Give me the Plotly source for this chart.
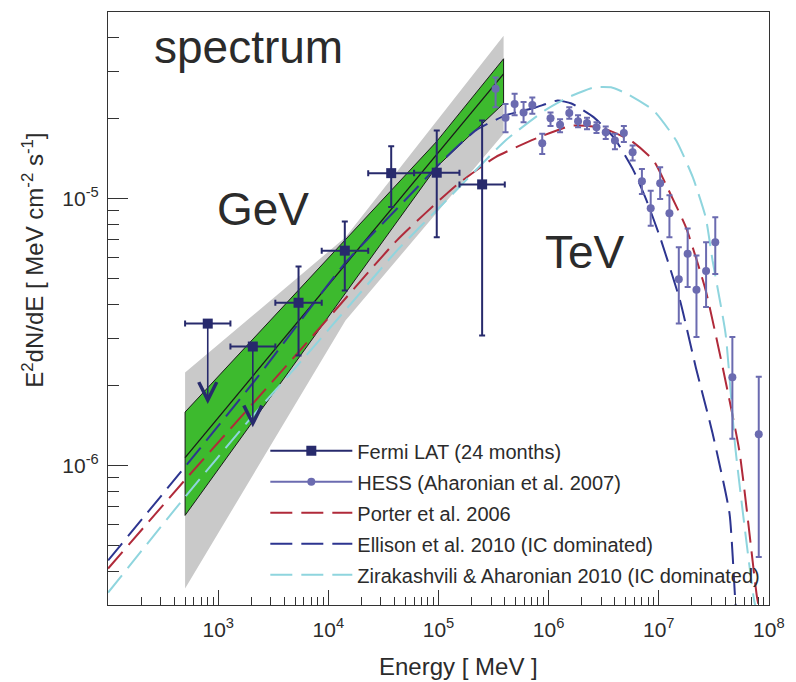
import numpy as np
import plotly.graph_objects as go

# ---------------- data ----------------
# Fermi LAT (24 months): energy bins [MeV] and E^2 dN/dE [MeV cm^-2 s^-1]
fermi_E = [803, 2060, 5360, 14100, 37200, 96400, 2.49e5]
fermi_E_lo = [500, 1290, 3300, 8700, 23000, 60000, 1.55e5]
fermi_E_hi = [1290, 3300, 8700, 23000, 60000, 1.55e5, 4.0e5]
fermi_F = [3.40e-6, 2.79e-6, 4.07e-6, 6.38e-6, 1.245e-5, 1.25e-5, 1.13e-5]
fermi_F_hi = [3.40e-6, 2.79e-6, 5.56e-6, 8.2e-6, 1.57e-5, 1.80e-5, 1.96e-5]
fermi_F_lo = [1.70e-6, 1.39e-6, 2.58e-6, 4.52e-6, 9.3e-6, 7.16e-6, 3.07e-6]
fermi_UL = [True, True, False, False, False, False, False]

# HESS (Aharonian et al. 2007)
hess_E = [3.30e5, 4.06e5, 4.91e5, 5.92e5, 7.11e5, 8.75e5, 1.04e6, 1.27e6, 1.54e6,
          1.85e6, 2.23e6, 2.72e6, 3.30e6, 4.00e6, 4.82e6, 5.79e6, 7.03e6, 8.45e6,
          1.03e7, 1.25e7, 1.52e7, 1.83e7, 2.20e7, 2.69e7, 3.26e7, 4.66e7, 8.09e7]
hess_F = [2.58e-5, 2.01e-5, 2.26e-5, 2.10e-5, 2.24e-5, 1.61e-5, 2.00e-5, 1.89e-5, 2.09e-5,
          1.95e-5, 1.92e-5, 1.85e-5, 1.77e-5, 1.65e-5, 1.76e-5, 1.49e-5, 1.16e-5, 9.2e-6,
          1.14e-5, 8.8e-6, 4.98e-6, 6.21e-6, 4.55e-6, 5.35e-6, 6.86e-6, 2.14e-6, 1.31e-6]
hess_F_hi = [2.84e-5, 2.26e-5, 2.47e-5, 2.30e-5, 2.39e-5, 1.75e-5, 2.10e-5, 1.98e-5, 2.20e-5,
             2.05e-5, 2.01e-5, 1.93e-5, 1.86e-5, 1.75e-5, 1.87e-5, 1.58e-5, 1.29e-5, 1.07e-5,
             1.31e-5, 1.03e-5, 6.57e-6, 7.72e-6, 6.12e-6, 6.86e-6, 8.51e-6, 3.03e-6, 2.15e-6]
hess_F_lo = [2.20e-5, 1.77e-5, 2.05e-5, 1.93e-5, 2.08e-5, 1.47e-5, 1.87e-5, 1.77e-5, 1.99e-5,
             1.85e-5, 1.82e-5, 1.76e-5, 1.67e-5, 1.53e-5, 1.63e-5, 1.39e-5, 1.04e-5, 7.9e-6,
             9.97e-6, 7.16e-6, 3.40e-6, 4.66e-6, 3.03e-6, 3.92e-6, 5.22e-6, 1.26e-6, 4.54e-7]

# Fermi fit: statistical (green) and systematic (gray) bow-ties, best-fit line
green_E = [500, 9.55e4, 3.9e5]
green_hi = [1.585e-6, 1.63e-5, 3.34e-5]
green_lo = [6.5e-7, 1.31e-5, 2.27e-5]
gray_E = [500, 1.43e4, 3.9e5]
gray_hi = [2.23e-6, 7.16e-6, 4.07e-5]
gray_lo = [3.46e-7, 3.49e-6, 1.75e-5]
fit_E = [500, 3.9e5]
fit_F = [1.07e-6, 2.93e-5]

# Models
porter_E = [100, 495, 5320, 10500, 41900, 1.445e5, 3.30e5, 8.0e5, 1.61e6, 3.0e6, 5.57e6,
            8.95e6, 1.27e7, 1.77e7, 2.67e7, 5.38e7, 7.8e7, 8.65e7]
porter_F = [4.11e-7, 8.79e-7, 2.65e-6, 3.65e-6, 6.97e-6, 1.12e-5, 1.43e-5, 1.69e-5, 1.875e-5,
            1.845e-5, 1.65e-5, 1.39e-5, 1.045e-5, 7.78e-6, 4.52e-6, 1.14e-6, 3.21e-7, 2.6e-7]
ellison_E = [100, 495, 2330, 14300, 49400, 1.175e5, 2.18e5, 4.06e5, 7.52e5, 1.21e6, 1.61e6,
             2.59e6, 3.92e6, 5.92e6, 7.74e6, 1.03e7, 1.56e7, 2.17e7, 3.08e7, 4.39e7, 4.95e7, 5.16e7]
ellison_F = [4.41e-7, 9.84e-7, 2.17e-6, 5.75e-6, 9.83e-6, 1.43e-5, 1.80e-5, 2.05e-5, 2.19e-5,
             2.33e-5, 2.27e-5, 2.01e-5, 1.69e-5, 1.27e-5, 9.84e-6, 7.14e-6, 4.15e-6, 2.33e-6,
             1.32e-6, 6.61e-7, 3.12e-7, 2.6e-7]
zira_E = [100, 495, 1900, 6270, 18300, 41900, 1.175e5, 4.06e5, 9.25e5, 1.486e6, 2.59e6,
          3.68e6, 5.13e6, 8.95e6, 1.44e7, 2.04e7, 2.67e7, 3.08e7, 4.04e7, 4.95e7, 7.35e7, 8.2e7]
zira_F = [3.34e-7, 7.59e-7, 1.476e-6, 2.58e-6, 4.30e-6, 6.38e-6, 9.83e-6, 1.65e-5, 2.14e-5,
          2.39e-5, 2.61e-5, 2.61e-5, 2.47e-5, 2.14e-5, 1.65e-5, 1.20e-5, 8.49e-6, 5.86e-6,
          3.12e-6, 1.17e-6, 3.12e-7, 2.6e-7]

x_tickvals = [1e3, 1e4, 1e5, 1e6, 1e7, 1e8]
x_ticktext = ["10<sup>3</sup>", "10<sup>4</sup>", "10<sup>5</sup>", "10<sup>6</sup>",
              "10<sup>7</sup>", "10<sup>8</sup>"]
y_tickvals = [1e-6, 1e-5]
y_ticktext = ["10<sup>-6</sup>", "10<sup>-5</sup>"]

# ---------------- style ----------------
FONT = "Liberation Sans, Arial, Helvetica, sans-serif"
C_FERMI = "#272a6c"
C_HESS = "#6b6bb0"
C_PORTER = "#b02a3a"
C_ELLISON = "#2d3590"
C_ZIRA = "#8fd5de"
DASH = "22px,9px"

fig = go.Figure()

# gray systematic band
fig.add_trace(go.Scatter(
    x=gray_E + gray_E[::-1], y=gray_hi + gray_lo[::-1], fill="toself",
    fillcolor="#c9c9c9", line=dict(width=0), mode="lines",
    showlegend=False, hoverinfo="skip"))
# green statistical band
fig.add_trace(go.Scatter(
    x=green_E + green_E[::-1] + green_E[:1], y=green_hi + green_lo[::-1] + green_hi[:1],
    fill="toself", fillcolor="#3dba2e", line=dict(width=1, color="#1a1a1a"), mode="lines",
    showlegend=False, hoverinfo="skip"))
fig.add_trace(go.Scatter(x=fit_E, y=fit_F, mode="lines",
                         line=dict(width=1.3, color="#1a1a1a"),
                         showlegend=False, hoverinfo="skip"))

# model curves
for E, F, col in [(porter_E, porter_F, C_PORTER), (ellison_E, ellison_F, C_ELLISON),
                  (zira_E, zira_F, C_ZIRA)]:
    fig.add_trace(go.Scatter(x=E, y=F, mode="lines",
                             line=dict(width=2, color=col, dash=DASH, shape="spline",
                                       smoothing=0.5),
                             showlegend=False))

# Fermi points
fE = np.array(fermi_E, dtype=float)
fF = np.array(fermi_F, dtype=float)
ul = np.array(fermi_UL)
err_plus = np.where(ul, 0.0, np.array(fermi_F_hi) - fF)
err_minus = np.where(ul, 0.0, fF - np.array(fermi_F_lo))
fig.add_trace(go.Scatter(
    x=fE, y=fF, mode="markers",
    marker=dict(symbol="square", size=10, color=C_FERMI),
    error_x=dict(type="data", symmetric=False, array=np.array(fermi_E_hi) - fE,
                 arrayminus=fE - np.array(fermi_E_lo), color=C_FERMI, thickness=2, width=3),
    error_y=dict(type="data", symmetric=False, array=err_plus, arrayminus=err_minus,
                 color=C_FERMI, thickness=2, width=3),
    showlegend=False))

# HESS points
hE = np.array(hess_E)
hF = np.array(hess_F)
fig.add_trace(go.Scatter(
    x=hE, y=hF, mode="markers",
    marker=dict(symbol="circle", size=8, color=C_HESS),
    error_y=dict(type="data", symmetric=False, array=np.array(hess_F_hi) - hF,
                 arrayminus=hF - np.array(hess_F_lo), color=C_HESS, thickness=2, width=3),
    showlegend=False))

# legend-only entries
leg = [
    ("Fermi LAT (24 months)", dict(color=C_FERMI, width=2), dict(symbol="square", size=10, color=C_FERMI), "lines+markers"),
    ("HESS (Aharonian et al. 2007)", dict(color=C_HESS, width=2), dict(symbol="circle", size=8, color=C_HESS), "lines+markers"),
    ("Porter et al. 2006", dict(color=C_PORTER, width=2, dash=DASH), None, "lines"),
    ("Ellison et al. 2010 (IC dominated)", dict(color=C_ELLISON, width=2, dash=DASH), None, "lines"),
    ("Zirakashvili & Aharonian 2010 (IC dominated)", dict(color=C_ZIRA, width=2, dash=DASH), None, "lines"),
]
for i, (name, ln, mk, mode) in enumerate(leg):
    kw = dict(x=[None], y=[None], mode=mode, name=name, line=ln, legendgroup=f"g{i}",
              legendrank=i + 1)
    if mk:
        kw["marker"] = mk
    fig.add_trace(go.Scatter(**kw))

annotations = []
# upper-limit arrows for Fermi points
for E, F, lo, isul in zip(fermi_E, fermi_F, fermi_F_lo, fermi_UL):
    if isul:
        annotations.append(dict(
            x=np.log10(E), y=np.log10(lo), ax=np.log10(E), ay=np.log10(F),
            xref="x", yref="y", axref="x", ayref="y", text="", showarrow=True,
            arrowhead=5, arrowsize=2.2, arrowwidth=1.6, arrowcolor=C_FERMI))

txt_col = "#2b2b2b"
annotations += [
    dict(text="spectrum", x=0.212, y=0.941, xref="paper", yref="paper", showarrow=False,
         xanchor="center", yanchor="middle",
         font=dict(size=46, family=FONT, color=txt_col)),
    dict(text="GeV", x=0.234, y=0.668, xref="paper", yref="paper", showarrow=False,
         xanchor="center", yanchor="middle",
         font=dict(size=46, family=FONT, color=txt_col)),
    dict(text="TeV", x=0.722, y=0.596, xref="paper", yref="paper", showarrow=False,
         xanchor="center", yanchor="middle",
         font=dict(size=46, family=FONT, color=txt_col)),
    dict(text="E<sup>2</sup>dN/dE [ MeV cm<sup>-2</sup> s<sup>-1</sup>]", textangle=-90,
         x=-0.113, y=0.581, xref="paper", yref="paper", showarrow=False,
         xanchor="center", yanchor="middle",
         font=dict(size=24, family=FONT, color=txt_col)),
    dict(text="Energy [ MeV ]", x=0.531, y=-0.104, xref="paper", yref="paper",
         showarrow=False, xanchor="center", yanchor="middle",
         font=dict(size=24, family=FONT, color=txt_col)),
]

axis_common = dict(showline=True, linecolor="#333333", linewidth=1.2, mirror=True,
                   ticks="inside", tickcolor="#333333", tickwidth=1.2, showgrid=False,
                   zeroline=False, tickfont=dict(size=21, family=FONT, color=txt_col))

fig.update_layout(
    width=796, height=682,
    margin=dict(l=108, r=18, t=11, b=77),
    plot_bgcolor="white", paper_bgcolor="white",
    font=dict(family=FONT, color=txt_col),
    xaxis=dict(type="log", range=[1.999, 8.001], tickvals=x_tickvals, ticktext=x_ticktext,
               ticklen=15, ticklabelstandoff=6,
               minor=dict(ticks="inside", ticklen=8, dtick="D1", tickcolor="#333333",
                          tickwidth=1.2, showgrid=False),
               **axis_common),
    yaxis=dict(type="log", range=[np.log10(3e-7), np.log10(5e-5)], tickvals=y_tickvals,
               ticktext=y_ticktext, ticklen=20, ticklabelstandoff=4,
               minor=dict(ticks="inside", ticklen=11, dtick="D1", tickcolor="#333333",
                          tickwidth=1.2, showgrid=False),
               **axis_common),
    legend=dict(x=0.238, y=0.293, xanchor="left", yanchor="top", bgcolor="rgba(0,0,0,0)",
                font=dict(size=20, family=FONT, color=txt_col), itemwidth=82,
                traceorder="grouped", tracegroupgap=2),
    annotations=annotations,
    showlegend=True,
)

fig.write_html("out.html")
